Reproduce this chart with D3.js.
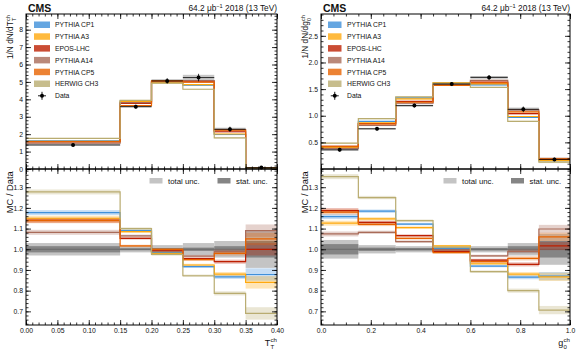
<!DOCTYPE html>
<html>
<head>
<meta charset="utf-8">
<script src="https://d3js.org/d3.v7.min.js"></script>
<style>
  body { margin: 0; background: #fff; }
  text { font-family: "Liberation Sans", Arial, sans-serif; fill: #111; }
</style>
</head>
<body>
<script>
// generators, in legend order
const tunes = ["PYTHIA CP1", "PYTHIA A3", "EPOS-LHC", "PYTHIA A14", "PYTHIA CP5", "HERWIG CH3"];
const tuneColors = ["#3f90da", "#ffa90e", "#bd1f01", "#a96b59", "#e76300", "#b9ac70"];

// ---- left: T_T^ch ----
const ttEdges = [0, 0.15, 0.2, 0.25, 0.3, 0.35, 0.4];
const ttData = [1.38, 3.58, 5.06, 5.25, 2.28, 0.08];
const ttTot = [0.03, 0.015, 0.02, 0.03, 0.04, 0.09];     // relative total unc.
const ttStat = [0.015, 0.005, 0.006, 0.008, 0.015, 0.04]; // relative stat unc.
const ttMC = [
  [1.62, 3.90, 4.98, 4.81, 1.98, 0.070],
  [1.59, 3.88, 4.96, 4.85, 2.01, 0.067],
  [1.57, 3.77, 5.03, 5.01, 2.14, 0.080],
  [1.49, 3.81, 5.01, 5.08, 2.26, 0.087],
  [1.57, 3.64, 5.06, 4.99, 2.23, 0.084],
  [1.76, 3.94, 4.93, 4.58, 1.79, 0.055]
];
const ttRatio = [
  [1.177, 1.090, 0.985, 0.916, 0.867, 0.878],
  [1.150, 1.085, 0.980, 0.924, 0.880, 0.840],
  [1.140, 1.053, 0.995, 0.955, 0.940, 1.000],
  [1.082, 1.065, 0.990, 0.967, 0.990, 1.090],
  [1.138, 1.016, 1.000, 0.950, 0.980, 1.050],
  [1.277, 1.100, 0.975, 0.872, 0.787, 0.690]
];
const ttMCUnc = [0.012, 0.006, 0.006, 0.006, 0.01, 0.03];
const ttXTicks = [0, 0.05, 0.1, 0.15, 0.2, 0.25, 0.3, 0.35, 0.4];
const ttYTicks = [0, 1, 2, 3, 4, 5, 6, 7, 8];

// ---- right: g_0^ch ----
const gEdges = [0, 0.15, 0.3, 0.45, 0.6, 0.75, 0.875, 1.0];
const gData = [0.36, 0.755, 1.19, 1.595, 1.72, 1.12, 0.18];
const gTot = [0.045, 0.02, 0.015, 0.012, 0.015, 0.03, 0.075];
const gStat = [0.025, 0.008, 0.006, 0.005, 0.006, 0.015, 0.04];
const gMC = [
  [0.417, 0.894, 1.335, 1.603, 1.581, 0.969, 0.157],
  [0.405, 0.866, 1.315, 1.620, 1.600, 0.986, 0.156],
  [0.427, 0.853, 1.269, 1.579, 1.631, 1.038, 0.183],
  [0.387, 0.817, 1.234, 1.590, 1.665, 1.109, 0.198],
  [0.425, 0.846, 1.253, 1.569, 1.617, 1.071, 0.191],
  [0.486, 0.944, 1.354, 1.611, 1.534, 0.896, 0.127]
];
const gRatio = [
  [1.158, 1.184, 1.122, 1.005, 0.919, 0.865, 0.870],
  [1.126, 1.147, 1.105, 1.016, 0.930, 0.880, 0.867],
  [1.187, 1.130, 1.066, 0.990, 0.948, 0.927, 1.016],
  [1.074, 1.082, 1.037, 0.997, 0.968, 0.990, 1.098],
  [1.180, 1.120, 1.053, 0.984, 0.940, 0.956, 1.060],
  [1.351, 1.250, 1.138, 1.010, 0.892, 0.800, 0.706]
];
const gMCUnc = [0.012, 0.008, 0.006, 0.005, 0.006, 0.01, 0.02];
const gXTicks = [0, 0.2, 0.4, 0.6, 0.8, 1.0];
const gYTicks = [0.5, 1.0, 1.5, 2.0, 2.5];

const ratioTicks = [0.7, 0.8, 0.9, 1.0, 1.1, 1.2, 1.3];

const W = 580, H = 351;
const yTopPx = 14, yMidPx = 169, yBotPx = 325;

const svg = d3.select("body").append("svg")
    .attr("width", W)
    .attr("height", H);

// text with stacked super/subscript, returns its width
function richText(g, main, sup, sub, fs) {
    const t = g.append("text").attr("font-size", fs).text(main);
    const w = t.node().getComputedTextLength();
    let w2 = 0;
    if (sup) {
        const s = g.append("text").attr("x", w + 0.3).attr("y", -fs * 0.42)
            .attr("font-size", fs * 0.68).text(sup);
        w2 = Math.max(w2, s.node().getComputedTextLength());
    }
    if (sub) {
        const s = g.append("text").attr("x", w + 0.3).attr("y", fs * 0.32)
            .attr("font-size", fs * 0.68).text(sub);
        w2 = Math.max(w2, s.node().getComputedTextLength());
    }
    return w + w2 + 0.3;
}

function drawPanel(p) {
    const n = p.edges.length - 1;
    const g = svg.append("g");
    const x = d3.scaleLinear().domain([p.edges[0], p.edges[n]]).range([p.x0, p.x1]);
    const yT = d3.scaleLinear().domain([0, p.yMax]).range([yMidPx, yTopPx]);
    const yR = d3.scaleLinear().domain([0.634, 1.388]).range([yBotPx, yMidPx]);
    const bins = d3.range(n);

    function step(vals, ys) {
        const pts = vals.map((v, i) => [x(p.edges[i]), ys(v)]);
        pts.push([x(p.edges[n]), ys(vals[n - 1])]);
        return d3.line().curve(d3.curveStepAfter)(pts);
    }

    // ---------- top panel ----------
    const top = g.append("g");
    top.selectAll("rect.dunc").data(bins).enter().append("rect")
        .attr("x", i => x(p.edges[i]))
        .attr("width", i => x(p.edges[i + 1]) - x(p.edges[i]))
        .attr("y", i => yT(p.data[i] * (1 + p.tot[i])))
        .attr("height", i => yT(p.data[i] * (1 - p.tot[i])) - yT(p.data[i] * (1 + p.tot[i])))
        .attr("fill", "#999").attr("opacity", 0.55);

    p.mc.forEach((vals, t) => {
        top.selectAll(null).data(bins).enter().append("rect")
            .attr("x", i => x(p.edges[i]))
            .attr("width", i => x(p.edges[i + 1]) - x(p.edges[i]))
            .attr("y", i => yT(vals[i] * (1 + p.mcUnc[i])))
            .attr("height", i => Math.max(1, yT(vals[i] * (1 - p.mcUnc[i])) - yT(vals[i] * (1 + p.mcUnc[i]))))
            .attr("fill", tuneColors[t]).attr("opacity", 0.35);
    });
    p.mc.forEach((vals, t) => {
        top.append("path").attr("d", step(vals, yT))
            .attr("fill", "none").attr("stroke", tuneColors[t]).attr("stroke-width", 1.2);
    });

    const pts = top.selectAll("g.pt").data(bins).enter().append("g");
    pts.append("line")
        .attr("x1", i => x(p.edges[i])).attr("x2", i => x(p.edges[i + 1]))
        .attr("y1", i => yT(p.data[i])).attr("y2", i => yT(p.data[i]))
        .attr("stroke", "#000").attr("stroke-width", 0.8);
    pts.append("line")
        .attr("x1", i => x((p.edges[i] + p.edges[i + 1]) / 2))
        .attr("x2", i => x((p.edges[i] + p.edges[i + 1]) / 2))
        .attr("y1", i => yT(p.data[i] * (1 + p.tot[i])) - 1)
        .attr("y2", i => yT(p.data[i] * (1 - p.tot[i])) + 1)
        .attr("stroke", "#000").attr("stroke-width", 0.8);
    pts.append("circle")
        .attr("cx", i => x((p.edges[i] + p.edges[i + 1]) / 2))
        .attr("cy", i => yT(p.data[i]))
        .attr("r", 2).attr("fill", "#000");

    // ---------- ratio panel ----------
    const rat = g.append("g");
    rat.selectAll(null).data(bins).enter().append("rect")
        .attr("x", i => x(p.edges[i]))
        .attr("width", i => x(p.edges[i + 1]) - x(p.edges[i]))
        .attr("y", i => yR(1 + p.tot[i]))
        .attr("height", i => yR(1 - p.tot[i]) - yR(1 + p.tot[i]))
        .attr("fill", "#c4c4c4");
    rat.selectAll(null).data(bins).enter().append("rect")
        .attr("x", i => x(p.edges[i]))
        .attr("width", i => x(p.edges[i + 1]) - x(p.edges[i]))
        .attr("y", i => yR(1 + p.stat[i]))
        .attr("height", i => yR(1 - p.stat[i]) - yR(1 + p.stat[i]))
        .attr("fill", "#858585");
    rat.append("line")
        .attr("x1", p.x0).attr("x2", p.x1)
        .attr("y1", yR(1)).attr("y2", yR(1))
        .attr("stroke", "#6a6a6a").attr("stroke-width", 1);

    p.ratio.forEach((vals, t) => {
        rat.selectAll(null).data(bins).enter().append("rect")
            .attr("x", i => x(p.edges[i]))
            .attr("width", i => x(p.edges[i + 1]) - x(p.edges[i]))
            .attr("y", i => yR(vals[i] + p.mcUnc[i]))
            .attr("height", i => Math.max(1, yR(vals[i] - p.mcUnc[i]) - yR(vals[i] + p.mcUnc[i])))
            .attr("fill", tuneColors[t]).attr("opacity", 0.3);
    });
    p.ratio.forEach((vals, t) => {
        rat.append("path").attr("d", step(vals, yR))
            .attr("fill", "none").attr("stroke", tuneColors[t]).attr("stroke-width", 1.2);
    });

    // ---------- axes / frames ----------
    function styleAxis(a) {
        a.select(".domain").remove();
        a.selectAll("line").attr("stroke", "#000").attr("stroke-width", 0.8);
        a.attr("font-size", 6.8).attr("font-family", null);
        a.selectAll("text").attr("fill", "#111");
    }
    function frame(ys, yMajor, yMinor, yFmt, y0, y1, xLabels) {
        g.append("g").attr("transform", `translate(0,${y1})`)
            .call(d3.axisBottom(x).tickValues(p.xTicks).tickSize(-5).tickPadding(3)
                .tickFormat(xLabels ? p.xFmt : "")).call(styleAxis);
        g.append("g").attr("transform", `translate(0,${y1})`)
            .call(d3.axisBottom(x).tickValues(p.xMinor).tickSize(-2.5).tickFormat("")).call(styleAxis);
        g.append("g").attr("transform", `translate(0,${y0})`)
            .call(d3.axisTop(x).tickValues(p.xTicks).tickSize(-5).tickFormat("")).call(styleAxis);
        g.append("g").attr("transform", `translate(0,${y0})`)
            .call(d3.axisTop(x).tickValues(p.xMinor).tickSize(-2.5).tickFormat("")).call(styleAxis);
        g.append("g").attr("transform", `translate(${p.x0},0)`)
            .call(d3.axisLeft(ys).tickValues(yMajor).tickSize(-5).tickPadding(3).tickFormat(yFmt)).call(styleAxis);
        g.append("g").attr("transform", `translate(${p.x0},0)`)
            .call(d3.axisLeft(ys).tickValues(yMinor).tickSize(-2.5).tickFormat("")).call(styleAxis);
        g.append("g").attr("transform", `translate(${p.x1},0)`)
            .call(d3.axisRight(ys).tickValues(yMajor).tickSize(-5).tickFormat("")).call(styleAxis);
        g.append("g").attr("transform", `translate(${p.x1},0)`)
            .call(d3.axisRight(ys).tickValues(yMinor).tickSize(-2.5).tickFormat("")).call(styleAxis);
        g.append("rect").attr("x", p.x0).attr("y", y0)
            .attr("width", p.x1 - p.x0).attr("height", y1 - y0)
            .attr("fill", "none").attr("stroke", "#000").attr("stroke-width", 1);
    }
    frame(yT, p.yTicks, p.yMinor, p.yFmt, yTopPx, yMidPx, false);
    frame(yR, ratioTicks, d3.range(0.64, 1.385, 0.02), d3.format(".1f"), yMidPx, yBotPx, true);

    // ---------- legend ----------
    const leg = g.append("g");
    tunes.forEach((name, t) => {
        const ly = p.legY + t * p.legDy;
        leg.append("rect").attr("x", p.legX).attr("y", ly - 3.5)
            .attr("width", p.legW).attr("height", 6.5)
            .attr("fill", tuneColors[t]).attr("opacity", 0.8);
        leg.append("text").attr("x", p.legTx).attr("y", ly + 2.4)
            .attr("font-size", 6.8).text(name);
    });
    const dly = p.legY + 6 * p.legDy;
    const mx = p.legX + p.legW / 2;
    leg.append("line").attr("x1", mx - 4).attr("x2", mx + 4).attr("y1", dly).attr("y2", dly)
        .attr("stroke", "#000").attr("stroke-width", 0.9);
    leg.append("line").attr("x1", mx).attr("x2", mx).attr("y1", dly - 4).attr("y2", dly + 4)
        .attr("stroke", "#000").attr("stroke-width", 0.9);
    leg.append("circle").attr("cx", mx).attr("cy", dly).attr("r", 2).attr("fill", "#000");
    leg.append("text").attr("x", p.legTx).attr("y", dly + 2.4).attr("font-size", 6.8).text("Data");

    // ratio legend
    const rl = g.append("g");
    [["total unc.", "#c4c4c4", p.rlX1], ["stat. unc.", "#858585", p.rlX2]].forEach(d => {
        rl.append("rect").attr("x", d[2]).attr("y", 178).attr("width", 13).attr("height", 5.5).attr("fill", d[1]);
        rl.append("text").attr("x", d[2] + 18.5).attr("y", 183.5).attr("font-size", 7.8).text(d[0]);
    });

    // ---------- header ----------
    g.append("text").attr("x", p.x0 + 2).attr("y", 12).attr("font-size", 10.5)
        .attr("font-weight", "bold").text("CMS");
    const lumi = g.append("text").attr("x", p.x1).attr("y", 11).attr("font-size", 8.3)
        .attr("text-anchor", "end");
    lumi.append("tspan").text("64.2 \u03bcb");
    lumi.append("tspan").attr("dy", -3).attr("font-size", 5.6).text("\u22121");
    lumi.append("tspan").attr("dy", 3).text(" 2018 (13 TeV)");

    // ---------- axis titles ----------
    const yt = g.append("g");
    const ytw = richText(yt, p.yTitle[0], p.yTitle[1], p.yTitle[2], 8.3);
    yt.attr("transform", `translate(${p.x0 - 13},${yTopPx + 1}) rotate(-90) translate(${-ytw},0)`);
    const rt = g.append("g");
    const rtw = richText(rt, "MC / Data", null, null, 9.3);
    rt.attr("transform", `translate(${p.x0 - 13},${yMidPx + 2}) rotate(-90) translate(${-rtw},0)`);
    const xt = g.append("g");
    const xtw = richText(xt, p.xTitle[0], p.xTitle[1], p.xTitle[2], 9);
    xt.attr("transform", `translate(${p.x1 - xtw},${346})`);
}

drawPanel({
    edges: ttEdges, data: ttData, tot: ttTot, stat: ttStat, mc: ttMC, ratio: ttRatio, mcUnc: ttMCUnc,
    x0: 26, x1: 277, yMax: 8.9,
    xTicks: ttXTicks, xMinor: d3.range(0, 0.4001, 0.01), xFmt: d3.format(".2f"),
    yTicks: ttYTicks, yMinor: d3.range(0, 8.81, 0.2), yFmt: d3.format("d"),
    legX: 34, legW: 16, legTx: 55, legY: 25, legDy: 11.8,
    rlX1: 149.5, rlX2: 217.5,
    yTitle: ["1/N dN/dT", "ch", "T"], xTitle: ["T", "ch", "T"]
});
drawPanel({
    edges: gEdges, data: gData, tot: gTot, stat: gStat, mc: gMC, ratio: gRatio, mcUnc: gMCUnc,
    x0: 321, x1: 570, yMax: 2.91,
    xTicks: gXTicks, xMinor: d3.range(0, 1.0001, 0.05), xFmt: d3.format(".1f"),
    yTicks: gYTicks, yMinor: d3.range(0, 2.901, 0.1), yFmt: d3.format(".1f"),
    legX: 328, legW: 13.5, legTx: 347, legY: 25, legDy: 11.8,
    rlX1: 443.5, rlX2: 511,
    yTitle: ["1/N dN/dg", "ch", "0"], xTitle: ["g", "ch", "0"]
});
</script>
</body>
</html>
